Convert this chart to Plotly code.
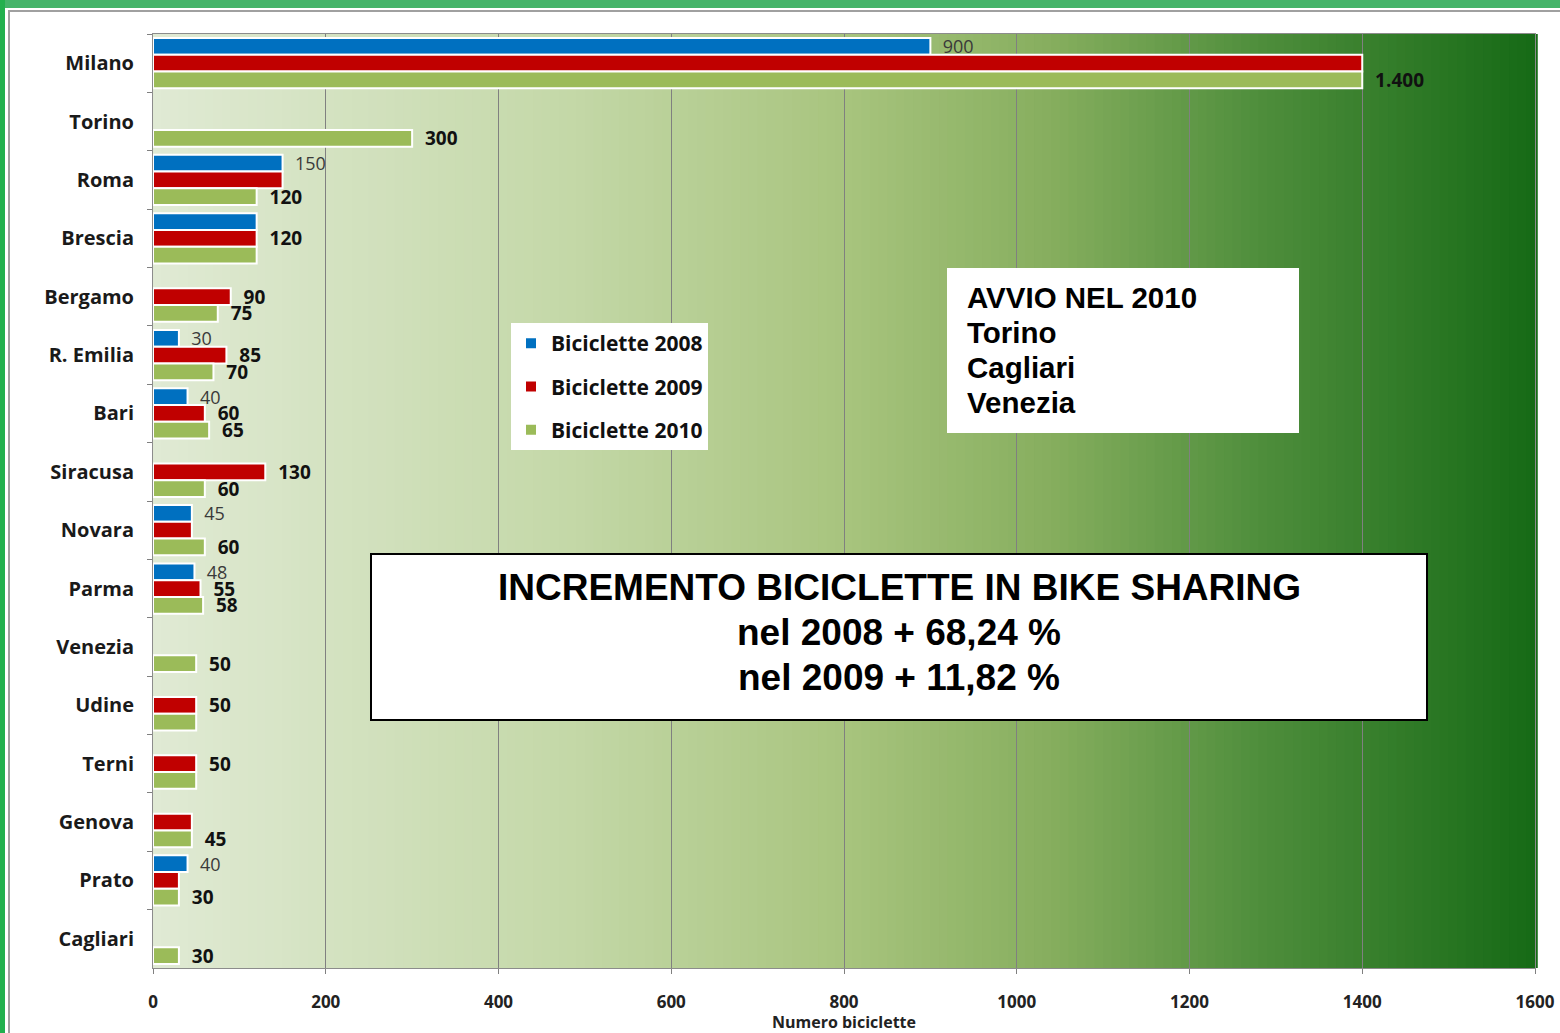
import plotly.graph_objects as go

# --- data -------------------------------------------------------------
cities = ["Milano", "Torino", "Roma", "Brescia", "Bergamo", "R. Emilia", "Bari",
          "Siracusa", "Novara", "Parma", "Venezia", "Udine", "Terni", "Genova",
          "Prato", "Cagliari"]

bici_2008 = [900, None, 150, 120, None, 30, 40, None, 45, 48, None, None, None, None, 40, None]
bici_2009 = [1400, None, 150, 120, 90, 85, 60, 130, 45, 55, None, 50, 50, 45, 30, None]
bici_2010 = [1400, 300, 120, 120, 75, 70, 65, 60, 60, 58, 50, 50, 50, 45, 30, 30]

# data labels as printed on the chart (blank = no label)
lab_2008 = ["900", "", "150", "", "", "30", "40", "", "45", "48", "", "", "", "", "40", ""]
lab_2009 = ["", "", "", "120", "90", "85", "60", "130", "", "55", "", "50", "50", "", "", ""]
lab_2010 = ["1.400", "300", "120", "", "75", "70", "65", "60", "60", "58", "50", "", "", "45", "30", "30"]

x_ticks = [0, 200, 400, 600, 800, 1000, 1200, 1400, 1600]

box_avvio = ["AVVIO NEL 2010", "Torino", "Cagliari", "Venezia"]
box_incremento = ["INCREMENTO BICICLETTE IN BIKE SHARING", "nel 2008 + 68,24 %", "nel 2009 + 11,82 %"]

# --- geometry helpers (pixel -> paper) --------------------------------
W, H = 1560, 1033
L, R, T, B = 153, 1535, 34, 968


def px(x):
    return (x - L) / (R - L)


def py(y):
    return (B - y) / (B - T)


SANS = "'Open Sans', 'Noto Sans', sans-serif"
ARIAL = "'Liberation Sans', Arial, sans-serif"

fig = go.Figure()

series = [
    ("Biciclette 2008", bici_2008, lab_2008, "#0070c0", dict(size=18, color="#3a3a3a", family=SANS)),
    ("Biciclette 2009", bici_2009, lab_2009, "#c00000", dict(size=19, color="#111111", family=SANS, weight="bold")),
    ("Biciclette 2010", bici_2010, lab_2010, "#9bbb59", dict(size=19, color="#111111", family=SANS, weight="bold")),
]
for name, vals, labs, color, tfont in series:
    fig.add_trace(go.Bar(
        y=cities, x=vals, name=name, orientation="h",
        marker=dict(color=color, line=dict(color="white", width=2)),
        text=["  " + t if t else "" for t in labs],
        textposition="outside", textfont=tfont, constraintext="none",
        cliponaxis=False, legendgroup=name, hoverinfo="skip",
    ))

# --- gradient background of the plot area ------------------------------
stops = [(0.0, (0xe0, 0xea, 0xd4)), (0.30, (0xc4, 0xd8, 0xa8)), (0.50, (0xa8, 0xc4, 0x7e)),
         (0.65, (0x86, 0xae, 0x5e)), (0.80, (0x4f, 0x8e, 0x3c)), (1.0, (0x16, 0x6a, 0x16))]


def grad(t):
    for (t0, c0), (t1, c1) in zip(stops[:-1], stops[1:]):
        if t <= t1:
            f = (t - t0) / (t1 - t0)
            return "rgb(%d,%d,%d)" % tuple(round(a + (b - a) * f) for a, b in zip(c0, c1))
    return "rgb(%d,%d,%d)" % stops[-1][1]


n = 160
shapes = []
for i in range(n):
    shapes.append(dict(type="rect", xref="x domain", yref="y domain",
                       x0=i / n, x1=(i + 1) / n + 0.002, y0=0, y1=1,
                       fillcolor=grad((i + 0.5) / n), line=dict(width=0), layer="below"))

# outer frame: green band on top/left, thin grey inner border
shapes += [
    dict(type="rect", xref="paper", yref="paper", x0=px(0), x1=px(W), y0=py(8), y1=py(0),
         fillcolor="#45b46a", line=dict(width=0)),
    dict(type="rect", xref="paper", yref="paper", x0=px(0), x1=px(5), y0=py(H), y1=py(0),
         fillcolor="#22b04e", line=dict(width=0)),
    dict(type="line", xref="paper", yref="paper", x0=px(8), x1=px(W), y0=py(11), y1=py(11),
         line=dict(color="#a0a0a0", width=2)),
    dict(type="line", xref="paper", yref="paper", x0=px(9), x1=px(9), y0=py(11), y1=py(H),
         line=dict(color="#a0a0a0", width=2)),
    # text boxes
    dict(type="rect", xref="paper", yref="paper", x0=px(947), x1=px(1299), y0=py(433), y1=py(268),
         fillcolor="white", line=dict(width=0)),
    dict(type="rect", xref="paper", yref="paper", x0=px(371), x1=px(1427), y0=py(720), y1=py(554),
         fillcolor="white", line=dict(color="black", width=2)),
]

annotations = []
for i, line in enumerate(box_avvio):
    annotations.append(dict(xref="paper", yref="paper", x=px(965), y=py(297 + 35.3 * i),
                            xanchor="left", yanchor="middle", showarrow=False, text=line,
                            font=dict(family=ARIAL, size=29.5, color="black", weight="bold")))
for i, line in enumerate(box_incremento):
    annotations.append(dict(xref="paper", yref="paper", x=px(899), y=py(587 + 45 * i),
                            xanchor="center", yanchor="middle", showarrow=False, text=line,
                            font=dict(family=ARIAL, size=37, color="black", weight="bold")))

fig.update_layout(
    width=W, height=H,
    margin=dict(l=L, r=W - R, t=T, b=H - B),
    paper_bgcolor="white", plot_bgcolor="#dfe9d3",
    barmode="group", bargap=0.14, bargroupgap=0,
    shapes=shapes, annotations=annotations,
    legend=dict(x=px(511), y=py(323), xanchor="left", yanchor="top",
                bgcolor="white", borderwidth=0, traceorder="grouped", tracegroupgap=13,
                font=dict(family=SANS, size=21, color="#111111", weight="bold"),
                itemwidth=30),
    xaxis=dict(range=[0, 1600], tickvals=x_ticks, ticks="outside", ticklen=5, tickcolor="#808080",
               showgrid=True, gridcolor="#808080", gridwidth=1, zeroline=False,
               showline=True, linecolor="#8c8c8c", linewidth=1, mirror=True, automargin=False,
               tickfont=dict(family=SANS, size=17, color="#222222", weight="bold"),
               ticklabelstandoff=14,
               title=dict(text="Numero biciclette", standoff=0,
                          font=dict(family=SANS, size=16, color="#222222", weight="bold"))),
    yaxis=dict(autorange="reversed", type="category", ticks="outside", ticklen=5, tickcolor="#808080",
               tickson="boundaries", showgrid=False, showline=True, linecolor="#8c8c8c", linewidth=1,
               mirror=True, ticklabelstandoff=14, automargin=False,
               tickfont=dict(family=SANS, size=20, color="#1a1a1a", weight="bold")),
)

# the page body has a default 8px margin; drop it (and any scrollbars) so the chart fills the window
fig.write_html(
    "out.html",
    config={"displayModeBar": False},
    post_script="document.body.style.margin='0';"
                "document.documentElement.style.overflow='hidden';"
                "document.body.style.overflow='hidden';",
)
